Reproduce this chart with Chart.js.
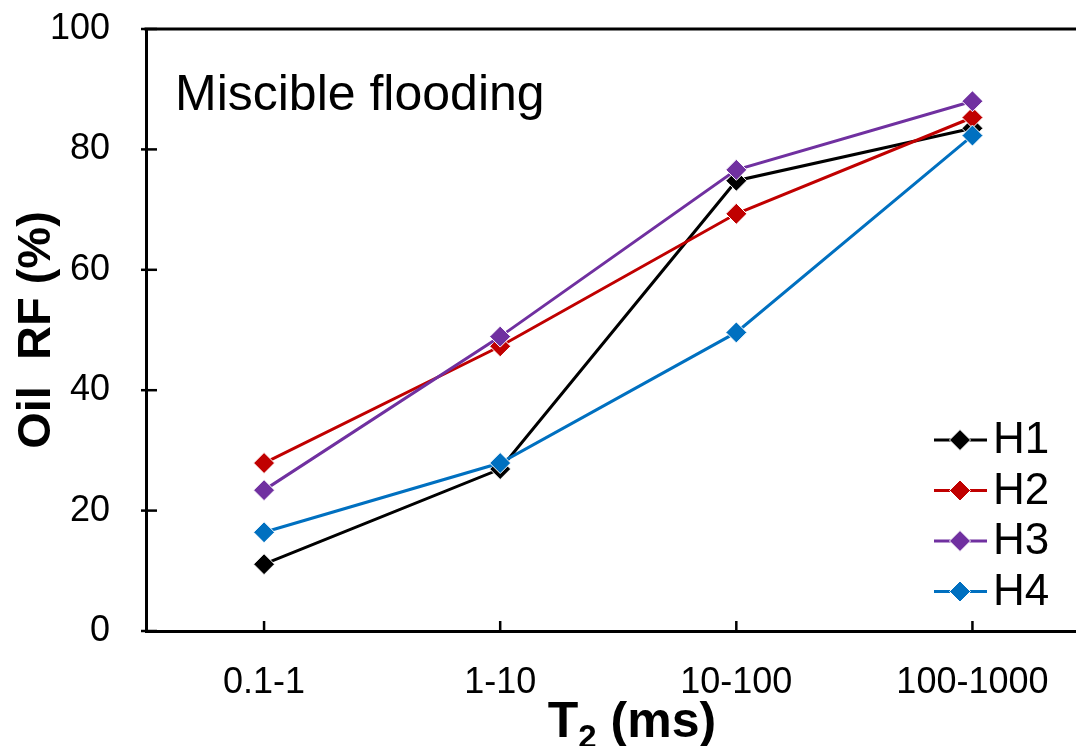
<!DOCTYPE html>
<html>
<head>
<meta charset="utf-8">
<script src="https://cdn.jsdelivr.net/npm/chart.js@4.4.0/dist/chart.umd.min.js"></script>
<style>
  body { margin: 0; overflow: hidden; background: #fff; }
</style>
</head>
<body>
<canvas id="myChart" width="1102" height="746"></canvas>
<script>
let categories = ["0.1-1", "1-10", "10-100", "100-1000"];
let seriesNames = ["H1", "H2", "H3", "H4"];
let h1Values = [11.1, 26.9, 74.8, 83.5];
let h2Values = [27.9, 47.3, 69.3, 85.3];
let h3Values = [23.4, 48.9, 76.6, 88.0];
let h4Values = [16.4, 27.9, 49.6, 82.3];
let seriesColors = ["#000000", "#C00000", "#7030A0", "#0070C0"];
let yTicks = [0, 20, 40, 60, 80, 100];

let font = "'Liberation Sans', Arial, sans-serif";
let allValues = [h1Values, h2Values, h3Values, h4Values];

let datasets = seriesNames.map((name, i) => ({
  label: name,
  data: allValues[i],
  borderColor: seriesColors[i],
  backgroundColor: seriesColors[i],
  borderWidth: 3,
  pointStyle: "rectRot",
  pointRadius: 10.5,
  pointBorderColor: "#ffffff",
  pointBorderWidth: 1,
  pointBackgroundColor: seriesColors[i],
  tension: 0,
  order: 3 - i
}));

// ticks inside, top frame line, titles and the legend
const decor = {
  id: "decor",
  afterDraw(chart) {
    const ctx = chart.ctx;
    const area = chart.chartArea;
    const x = chart.scales.x;
    const y = chart.scales.y;
    ctx.save();
    ctx.strokeStyle = "#000";
    ctx.lineWidth = 3;
    ctx.beginPath();
    ctx.moveTo(area.left - 1.5, area.top);
    ctx.lineTo(area.right, area.top);
    ctx.stroke();

    ctx.lineWidth = 2.5;
    yTicks.forEach(v => {
      const py = y.getPixelForValue(v);
      ctx.beginPath();
      ctx.moveTo(area.left - 5, py);
      ctx.lineTo(area.left + 11, py);
      ctx.stroke();
    });
    categories.forEach((c, i) => {
      const px = x.getPixelForValue(i);
      ctx.beginPath();
      ctx.moveTo(px, area.bottom);
      ctx.lineTo(px, area.bottom - 10);
      ctx.stroke();
    });

    // annotation
    ctx.fillStyle = "#000";
    ctx.font = "50px " + font;
    ctx.textAlign = "left";
    ctx.textBaseline = "alphabetic";
    ctx.fillText("Miscible flooding", 175, 110);

    // y title
    ctx.save();
    ctx.translate(50, 330);
    ctx.rotate(-Math.PI / 2);
    ctx.font = "bold 47px " + font;
    ctx.textAlign = "center";
    ctx.fillText("Oil  RF (%)", 0, 0);
    ctx.restore();

    // x title with subscript
    ctx.font = "bold 50px " + font;
    const tW = ctx.measureText("T").width;
    const restW = ctx.measureText(" (ms)").width;
    ctx.font = "bold 33px " + font;
    const subW = ctx.measureText("2").width;
    let sx = 632 - (tW + subW + restW) / 2;
    ctx.font = "bold 50px " + font;
    ctx.fillText("T", sx, 737);
    ctx.font = "bold 33px " + font;
    ctx.fillText("2", sx + tW, 748);
    ctx.font = "bold 50px " + font;
    ctx.fillText(" (ms)", sx + tW + subW, 737);

    // legend
    chart.data.datasets.forEach((ds, i) => {
      const cy = 440 + i * 50.5;
      ctx.strokeStyle = ds.borderColor;
      ctx.lineWidth = 3;
      ctx.beginPath();
      ctx.moveTo(934, cy);
      ctx.lineTo(987, cy);
      ctx.stroke();
      ctx.fillStyle = ds.borderColor;
      ctx.strokeStyle = "#fff";
      ctx.lineWidth = 1;
      ctx.beginPath();
      ctx.moveTo(960, cy - 10.5);
      ctx.lineTo(970.5, cy);
      ctx.lineTo(960, cy + 10.5);
      ctx.lineTo(949.5, cy);
      ctx.closePath();
      ctx.fill();
      ctx.stroke();
      ctx.fillStyle = "#000";
      ctx.font = "44px " + font;
      ctx.textBaseline = "middle";
      ctx.fillText(ds.label, 993, cy + 1);
    });
    ctx.restore();
  }
};

new Chart("myChart", {
  type: "line",
  data: {
    labels: categories,
    datasets: datasets
  },
  options: {
    responsive: false,
    animation: false,
    layout: {
      padding: { top: 29, right: 6, left: 0, bottom: 0 }
    },
    plugins: {
      legend: { display: false },
      tooltip: { enabled: false }
    },
    scales: {
      x: {
        offset: true,
        grid: { display: false, drawTicks: false },
        border: { color: "#000", width: 3 },
        ticks: {
          color: "#000",
          padding: 30,
          maxRotation: 0,
          font: { size: 36, family: font }
        },
        afterFit(scale) {
          scale.height = 115;
          scale.paddingLeft = 0;
          scale.paddingRight = 0;
        }
      },
      y: {
        min: 0,
        max: 100,
        grid: { display: false, drawTicks: false },
        border: { color: "#000", width: 3 },
        ticks: {
          stepSize: 20,
          color: "#000",
          padding: 36,
          font: { size: 36, family: font }
        },
        afterFit(scale) {
          scale.width = 146;
          scale.paddingTop = 0;
          scale.paddingBottom = 0;
        }
      }
    }
  },
  plugins: [decor]
});
</script>
</body>
</html>
